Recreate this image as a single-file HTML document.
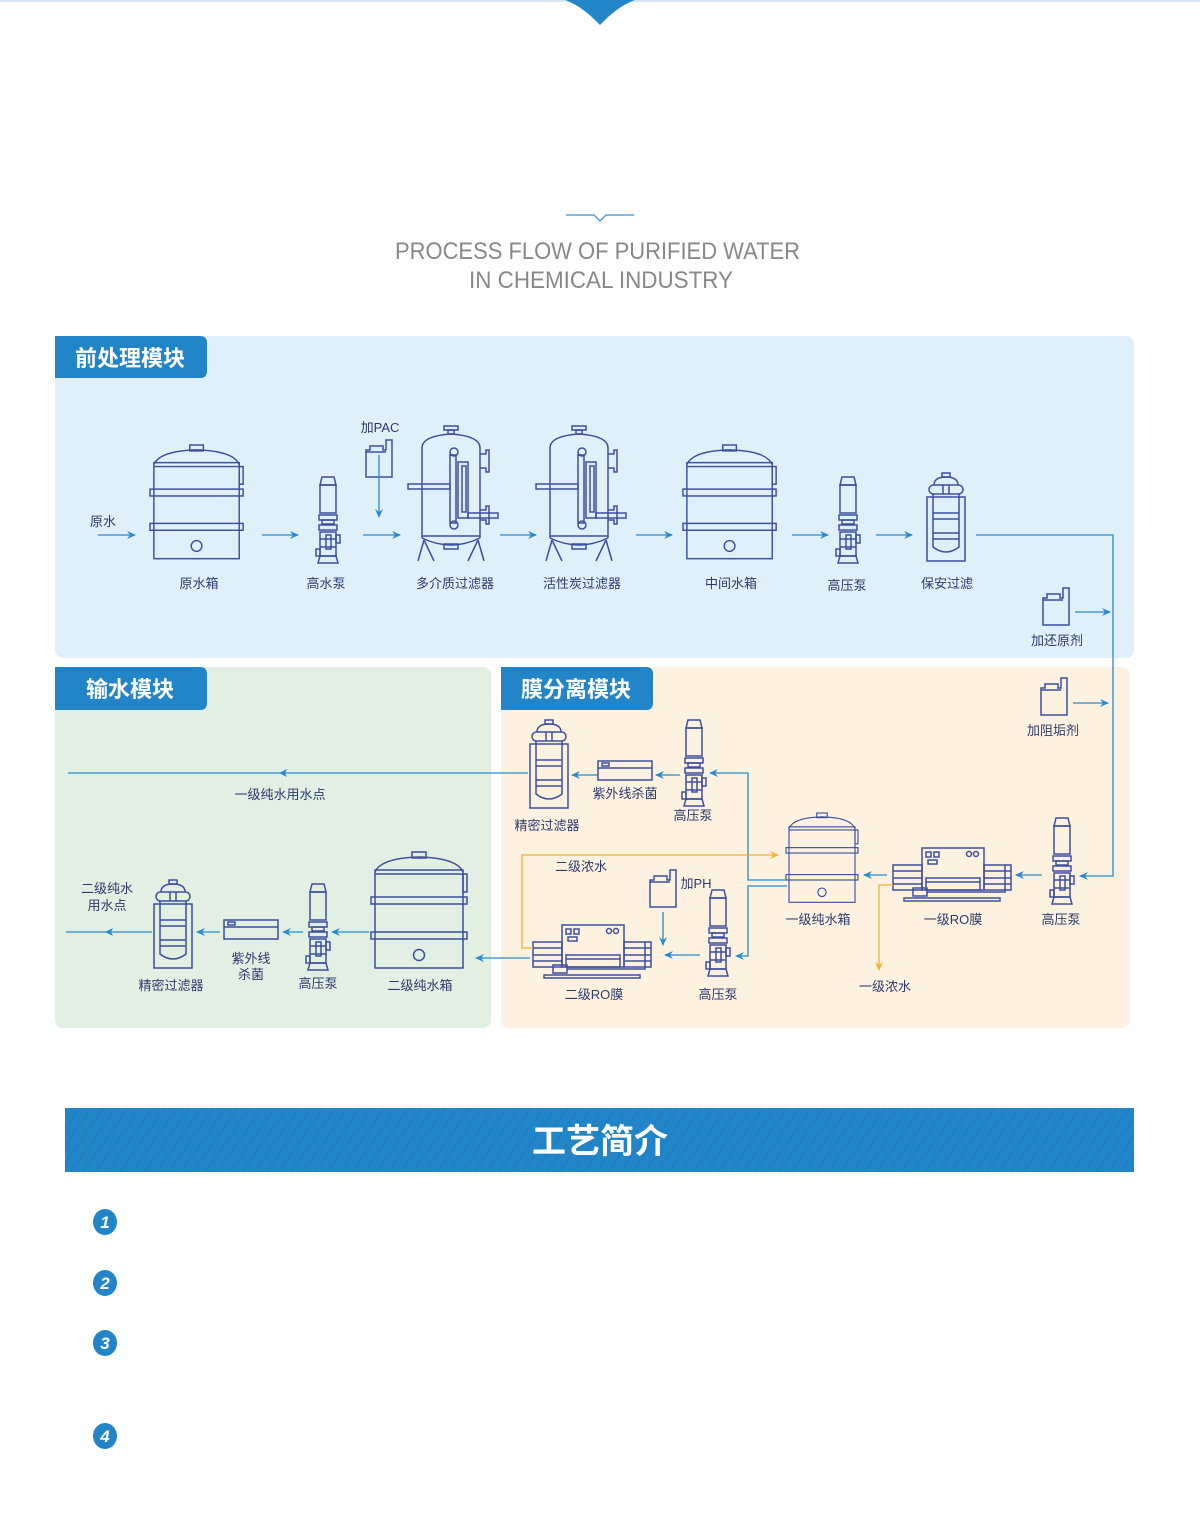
<!DOCTYPE html>
<html><head><meta charset="utf-8"><style>
html,body{margin:0;padding:0;background:#fff}
body{width:1200px;height:1521px;position:relative;overflow:hidden;font-family:"Liberation Sans","Noto Sans CJK SC",sans-serif}
svg text{font-family:"Liberation Sans","Noto Sans CJK SC",sans-serif}
</style></head><body>
<svg width="1200" height="1521" viewBox="0 0 1200 1521" xmlns="http://www.w3.org/2000/svg">
<defs>
<pattern id="str" width="10" height="10" patternUnits="userSpaceOnUse" patternTransform="rotate(35)">
<rect width="10" height="10" fill="#2185c8"/><line x1="0" y1="0" x2="0" y2="10" stroke="#1f78b8" stroke-width="1.5"/></pattern>
<marker id="ab" markerWidth="10" markerHeight="10" refX="8" refY="5" orient="auto" markerUnits="userSpaceOnUse"><path d="M0,1 L9,5 L0,9 L3,5z" fill="#2a8ad0"/></marker>
<marker id="ao" markerWidth="10" markerHeight="10" refX="8" refY="5" orient="auto" markerUnits="userSpaceOnUse"><path d="M0,1 L9,5 L0,9 L3,5z" fill="#f2b233"/></marker>
<g id="tank" fill="none" stroke="#3d4f9f" stroke-width="1.5">
<rect x="41" y="0" width="14" height="6"/>
<path d="M4,20 Q10,6 48,5 Q86,6 92,20"/>
<rect x="4" y="18" width="88" height="98"/>
<line x1="4" y1="22" x2="92" y2="22"/>
<rect x="0" y="45" width="96" height="7"/>
<rect x="0" y="80" width="96" height="7"/>
<rect x="92" y="22" width="4" height="18"/>
<circle cx="48" cy="103" r="5.5"/>
</g>
<g id="pump" fill="none" stroke="#3d4f9f" stroke-width="1.5">
<path d="M6,0 H18 L20,8 H4z"/>
<rect x="4" y="8" width="16" height="28"/>
<rect x="3" y="38" width="18" height="5"/>
<rect x="6" y="43" width="12" height="4"/>
<rect x="3" y="48" width="18" height="5"/>
<rect x="4" y="55" width="16" height="24"/>
<line x1="4" y1="62" x2="20" y2="62"/><line x1="4" y1="70" x2="20" y2="70"/>
<rect x="10" y="58" width="5" height="14"/>
<rect x="20" y="58" width="4" height="8"/>
<rect x="0" y="72" width="4" height="7"/>
<path d="M4,79 H20 L22,86 H2z"/>
</g>
<g id="filt" fill="none" stroke="#3d4f9f" stroke-width="1.5">
<rect x="36" y="0" width="14" height="4"/><rect x="40" y="4" width="6" height="4"/>
<path d="M14,22 Q14,10 43,8 Q72,10 72,22"/>
<line x1="14" y1="22" x2="14" y2="112"/><line x1="72" y1="22" x2="72" y2="112"/>
<path d="M14,112 Q43,126 72,112"/><line x1="14" y1="110" x2="72" y2="110"/>
<path d="M72,28 h6 v-4 h3 v22 h-3 v-4 h-6"/>
<path d="M72,84 h6 v-4 h3 v18 h-3 v-4 h-6"/>
<rect x="36" y="118" width="14" height="5"/>
<path d="M16,114 L10,135 M16,114 L26,135 M70,114 L60,135 M70,114 L76,135"/>
<rect x="0" y="58" width="42" height="5"/>
<circle cx="46" cy="26" r="4"/><circle cx="46" cy="99" r="4"/>
<rect x="42" y="29" width="6" height="68"/>
<rect x="50" y="36" width="10" height="56"/>
<rect x="54" y="40" width="4" height="46"/>
<rect x="60" y="87" width="30" height="5"/>
</g>
<g id="cart" fill="none" stroke="#3d4f9f" stroke-width="1.5">
<rect x="17" y="0" width="8" height="4"/>
<path d="M9,12 Q9,4 21,4 Q33,4 33,12"/>
<rect x="4" y="12" width="34" height="9" rx="4.5"/>
<line x1="18" y1="12" x2="18" y2="21"/><line x1="24" y1="12" x2="24" y2="21"/>
<rect x="2" y="24" width="38" height="64"/>
<path d="M8,21 V74 Q21,84 34,74 V21"/>
<line x1="8" y1="40" x2="34" y2="40"/><line x1="8" y1="46" x2="34" y2="46"/><line x1="8" y1="60" x2="34" y2="60"/><line x1="8" y1="66" x2="34" y2="66"/>
</g>
<g id="ro" fill="none" stroke="#3d4f9f" stroke-width="1.5">
<rect x="29" y="0" width="62" height="42"/>
<rect x="33" y="4" width="5" height="5"/><rect x="41" y="4" width="5" height="5"/><rect x="35" y="12" width="9" height="4"/>
<circle cx="76" cy="6" r="2.5"/><circle cx="83" cy="6" r="2.5"/>
<rect x="0" y="17" width="29" height="25"/><rect x="91" y="17" width="27" height="25"/>
<line x1="0" y1="23" x2="29" y2="23"/><line x1="0" y1="30" x2="29" y2="30"/><line x1="0" y1="36" x2="29" y2="36"/>
<line x1="91" y1="23" x2="118" y2="23"/><line x1="91" y1="30" x2="118" y2="30"/><line x1="91" y1="36" x2="118" y2="36"/>
<rect x="33" y="30" width="54" height="12"/><line x1="33" y1="34" x2="87" y2="34"/>
<rect x="20" y="40" width="14" height="8"/>
<path d="M34,44 H112 V17"/>
<rect x="11" y="50" width="96" height="3"/>
</g>
<g id="uv" fill="none" stroke="#3d4f9f" stroke-width="1.5">
<rect x="0" y="0" width="54" height="19"/><line x1="0" y1="7" x2="54" y2="7"/><rect x="4" y="2" width="7" height="3"/>
</g>
<g id="btl" fill="none" stroke="#3d4f9f" stroke-width="1.5">
<path d="M0,37 V10 H4 V6 H17 V10 H20 V0 H26 V37z"/><line x1="0" y1="12" x2="20" y2="12"/>
</g>
</defs>

<rect x="0" y="0" width="1200" height="2" fill="#d5e6f3"/>
<path d="M565,0 H635 Q618,6 600,25 Q582,6 565,0z" fill="#2185c8"/>
<path d="M566,215 H594 L600,221 L606,215 H634" fill="none" stroke="#3a90d0" stroke-width="1.3"/>
<text x="395" y="259" textLength="405" lengthAdjust="spacingAndGlyphs" font-size="24" fill="#888">PROCESS FLOW OF PURIFIED WATER</text>
<text x="469" y="288" textLength="264" lengthAdjust="spacingAndGlyphs" font-size="24" fill="#888">IN CHEMICAL INDUSTRY</text>

<rect x="55" y="336" width="1079" height="322" rx="8" fill="#dff0fa"/>
<rect x="55" y="667" width="436" height="361" rx="8" fill="#e2efe3"/>
<rect x="501" y="667" width="629" height="361" rx="8" fill="#fdf2df"/>
<path d="M55,336 H200 Q207,336 207,343 V371 Q207,378 200,378 H55z" fill="#2185c8"/>
<path d="M55,667 H200 Q207,667 207,674 V703 Q207,710 200,710 H55z" fill="#2185c8"/>
<path d="M501,667 H646 Q653,667 653,674 V703 Q653,710 646,710 H501z" fill="#2185c8"/>
<text x="130" y="366" text-anchor="middle" font-size="22" font-weight="bold" fill="#fff">前处理模块</text>
<text x="130" y="697" text-anchor="middle" font-size="22" font-weight="bold" fill="#fff">输水模块</text>
<text x="576" y="697" text-anchor="middle" font-size="22" font-weight="bold" fill="#fff">膜分离模块</text>

<g font-size="13" fill="#2d3a6e" text-anchor="middle">
<text x="103" y="526">原水</text>
<use href="#tank" transform="translate(150,445) scale(0.97,0.98)"/>
<text x="199" y="588">原水箱</text>
<use href="#pump" transform="translate(316,477)"/>
<text x="326" y="588">高水泵</text>
<text x="380" y="432">加PAC</text>
<use href="#btl" transform="translate(366,440)"/>
<use href="#filt" transform="translate(408,426)"/>
<text x="455" y="588">多介质过滤器</text>
<use href="#filt" transform="translate(536,426)"/>
<text x="582" y="588">活性炭过滤器</text>
<use href="#tank" transform="translate(683,445) scale(0.97,0.98)"/>
<text x="731" y="588">中间水箱</text>
<use href="#pump" transform="translate(836,477)"/>
<text x="847" y="590">高压泵</text>
<use href="#cart" transform="translate(925,473)"/>
<text x="947" y="588">保安过滤</text>
<use href="#btl" transform="translate(1043,588)"/>
<text x="1057" y="645">加还原剂</text>
<use href="#btl" transform="translate(1041,678)"/>
<text x="1053" y="735">加阻垢剂</text>

<use href="#pump" transform="translate(1050,818)"/>
<text x="1061" y="924">高压泵</text>
<use href="#ro" transform="translate(893,848)"/>
<text x="953" y="924">一级RO膜</text>
<use href="#tank" transform="translate(786,813) scale(0.75,0.77)"/>
<text x="818" y="924">一级纯水箱</text>
<text x="885" y="991">一级浓水</text>
<use href="#pump" transform="translate(682,720)"/>
<text x="693" y="820">高压泵</text>
<use href="#uv" transform="translate(598,761)"/>
<text x="625" y="798">紫外线杀菌</text>
<use href="#cart" transform="translate(528,720)"/>
<text x="547" y="830">精密过滤器</text>
<text x="581" y="871">二级浓水</text>
<use href="#btl" transform="translate(650,870)"/>
<text x="696" y="888">加PH</text>
<use href="#pump" transform="translate(706,890)"/>
<text x="718" y="999">高压泵</text>
<use href="#ro" transform="translate(533,925)"/>
<text x="594" y="999">二级RO膜</text>
<text x="280" y="799">一级纯水用水点</text>

<use href="#tank" transform="translate(371,852)"/>
<text x="420" y="990">二级纯水箱</text>
<use href="#pump" transform="translate(306,884)"/>
<text x="318" y="988">高压泵</text>
<use href="#uv" transform="translate(224,920)"/>
<text x="251" y="963">紫外线</text>
<text x="251" y="979">杀菌</text>
<use href="#cart" transform="translate(152,880)"/>
<text x="171" y="990">精密过滤器</text>
<text x="107" y="893">二级纯水</text>
<text x="107" y="910">用水点</text>
</g>

<g stroke="#2a8ad0" stroke-width="1.3" fill="none" marker-end="url(#ab)">
<line x1="98" y1="535" x2="135" y2="535"/>
<line x1="262" y1="535" x2="298" y2="535"/>
<line x1="379" y1="455" x2="379" y2="517"/>
<line x1="363" y1="535" x2="400" y2="535"/>
<line x1="500" y1="535" x2="536" y2="535"/>
<line x1="636" y1="535" x2="672" y2="535"/>
<line x1="792" y1="535" x2="828" y2="535"/>
<line x1="876" y1="535" x2="912" y2="535"/>
<path d="M976,535 H1113 V876 H1080"/>
<line x1="1075" y1="612" x2="1110" y2="612"/>
<line x1="1073" y1="703" x2="1108" y2="703"/>
<line x1="1042" y1="875" x2="1016" y2="875"/>
<line x1="887" y1="875" x2="864" y2="875"/>
<path d="M787,880 H748 V773 H710"/>
<line x1="680" y1="775" x2="656" y2="775"/>
<line x1="597" y1="775" x2="572" y2="775"/>
<path d="M787,886 H748 V956 H736"/>
<line x1="700" y1="955" x2="665" y2="955"/>
<line x1="663" y1="912" x2="663" y2="945"/>
<line x1="530" y1="958" x2="476" y2="958"/>
<line x1="369" y1="932" x2="332" y2="932"/>
<line x1="303" y1="932" x2="283" y2="932"/>
<line x1="220" y1="932" x2="197" y2="932"/>
</g>
<g stroke="#2a8ad0" stroke-width="1.3" fill="none">
<line x1="528" y1="773" x2="68" y2="773"/>
<line x1="152" y1="932" x2="66" y2="932"/>
</g>
<path d="M279,773 l8,-4 -2,4 2,4z M105,932 l8,-4 -2,4 2,4z" fill="#2a8ad0"/>
<g stroke="#f2b233" stroke-width="1.3" fill="none" marker-end="url(#ao)">
<path d="M893,885 H879 V970"/>
<path d="M533,948 H522 V855 H778"/>
</g>

<rect x="65" y="1108" width="1069" height="64" fill="url(#str)"/>
<text x="600" y="1153" text-anchor="middle" font-size="34" font-weight="bold" fill="#fff">工艺简介</text>
<g font-size="17" font-weight="bold" font-style="italic" fill="#fff" text-anchor="middle">
<ellipse cx="105" cy="1222" rx="12" ry="13" fill="#2185c8"/><text x="105" y="1228">1</text>
<ellipse cx="105" cy="1283" rx="12" ry="13" fill="#2185c8"/><text x="105" y="1289">2</text>
<ellipse cx="105" cy="1343" rx="12" ry="13" fill="#2185c8"/><text x="105" y="1349">3</text>
<ellipse cx="105" cy="1436" rx="12" ry="13" fill="#2185c8"/><text x="105" y="1442">4</text>
</g>
</svg>
</body></html>
